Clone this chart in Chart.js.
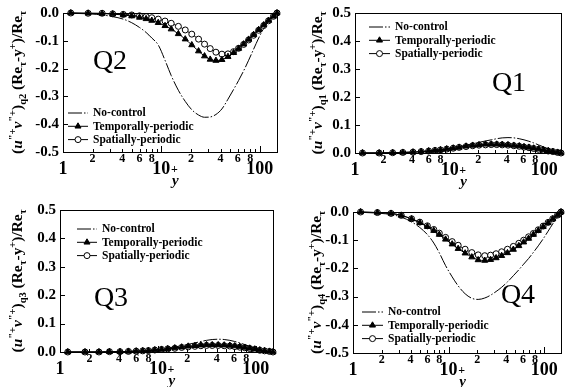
<!DOCTYPE html>
<html>
<head>
<meta charset="utf-8">
<script src="https://cdn.jsdelivr.net/npm/chart.js@4/dist/chart.umd.min.js"></script>
<style>
  html, body { margin: 0; padding: 0; background: #fff; }
  #wrap { position: relative; width: 566px; height: 387px; }
  #wrap canvas { position: absolute; }
</style>
</head>
<body>
<div id="wrap">
  <canvas id="q2" width="283" height="193" style="left:0;top:0"></canvas>
  <canvas id="q1" width="283" height="193" style="left:283px;top:0"></canvas>
  <canvas id="q3" width="283" height="194" style="left:0;top:193px"></canvas>
  <canvas id="q4" width="283" height="194" style="left:283px;top:193px"></canvas>
</div>
<script>
// wall distance y+ (marker positions)
const yPlus = [1.2, 1.8, 2.5, 3.2, 4.1, 5, 6, 7, 8, 9.3, 10.9, 12.6, 14.9, 17.5, 20.4, 23.9, 27.5, 31.4, 35.9, 41.3, 47.6, 54.3, 61, 68.7, 77.2, 86.8, 97.7, 110, 123, 138, 150];

// Q2
const q2None = [-0.001, -0.003, -0.007, -0.013, -0.022, -0.035, -0.052, -0.07, -0.09, -0.115, -0.17, -0.225, -0.278, -0.318, -0.348, -0.367, -0.375, -0.374, -0.365, -0.345, -0.31, -0.275, -0.243, -0.208, -0.17, -0.13, -0.09, -0.055, -0.028, -0.01, 0];
const q2Temporal = [0, -0.001, -0.002, -0.004, -0.007, -0.011, -0.016, -0.021, -0.027, -0.035, -0.046, -0.058, -0.075, -0.094, -0.115, -0.137, -0.155, -0.167, -0.171, -0.168, -0.157, -0.143, -0.128, -0.112, -0.095, -0.078, -0.06, -0.043, -0.027, -0.012, 0];
const q2Spatial = [0, -0.001, -0.001, -0.003, -0.005, -0.007, -0.01, -0.013, -0.017, -0.022, -0.029, -0.037, -0.048, -0.061, -0.076, -0.094, -0.112, -0.128, -0.141, -0.148, -0.147, -0.139, -0.127, -0.113, -0.097, -0.08, -0.062, -0.045, -0.028, -0.012, 0];

// Q1
const q1None = [0, 0, 0.001, 0.002, 0.003, 0.005, 0.007, 0.009, 0.012, 0.015, 0.019, 0.023, 0.028, 0.033, 0.038, 0.043, 0.047, 0.051, 0.054, 0.055, 0.054, 0.051, 0.047, 0.042, 0.036, 0.029, 0.022, 0.015, 0.009, 0.004, 0];
const q1Temporal = [0, 0, 0.001, 0.002, 0.003, 0.005, 0.007, 0.009, 0.011, 0.014, 0.017, 0.02, 0.024, 0.027, 0.029, 0.031, 0.031, 0.031, 0.03, 0.029, 0.027, 0.025, 0.022, 0.02, 0.017, 0.014, 0.011, 0.008, 0.005, 0.002, 0];
const q1Spatial = [0, 0, 0.001, 0.002, 0.003, 0.005, 0.007, 0.009, 0.011, 0.014, 0.017, 0.02, 0.023, 0.026, 0.028, 0.029, 0.03, 0.03, 0.029, 0.028, 0.026, 0.024, 0.021, 0.019, 0.016, 0.013, 0.01, 0.007, 0.005, 0.002, 0];

// Q3
const q3None = [0, 0, 0, 0.001, 0.001, 0.002, 0.003, 0.004, 0.006, 0.008, 0.011, 0.014, 0.018, 0.022, 0.027, 0.032, 0.037, 0.041, 0.044, 0.045, 0.044, 0.041, 0.037, 0.032, 0.026, 0.02, 0.014, 0.009, 0.005, 0.002, 0];
const q3Temporal = [0, 0, 0, 0.001, 0.001, 0.002, 0.003, 0.004, 0.005, 0.007, 0.009, 0.011, 0.014, 0.017, 0.02, 0.022, 0.024, 0.025, 0.025, 0.025, 0.024, 0.023, 0.021, 0.019, 0.016, 0.013, 0.01, 0.007, 0.004, 0.002, 0];
const q3Spatial = [0, 0, 0, 0.001, 0.001, 0.002, 0.003, 0.004, 0.005, 0.007, 0.009, 0.011, 0.013, 0.016, 0.018, 0.02, 0.022, 0.023, 0.023, 0.023, 0.022, 0.021, 0.019, 0.017, 0.015, 0.012, 0.009, 0.006, 0.004, 0.002, 0];

// Q4
const q4None = [-0.001, -0.004, -0.009, -0.018, -0.035, -0.055, -0.08, -0.11, -0.145, -0.19, -0.23, -0.262, -0.29, -0.306, -0.31, -0.305, -0.295, -0.282, -0.267, -0.248, -0.226, -0.205, -0.185, -0.165, -0.143, -0.12, -0.095, -0.068, -0.042, -0.018, 0];
const q4Temporal = [0, -0.002, -0.005, -0.012, -0.025, -0.038, -0.052, -0.066, -0.08, -0.097, -0.114, -0.13, -0.146, -0.16, -0.17, -0.172, -0.169, -0.163, -0.155, -0.145, -0.133, -0.12, -0.107, -0.094, -0.08, -0.066, -0.052, -0.038, -0.025, -0.011, 0];
const q4Spatial = [0, -0.002, -0.005, -0.012, -0.024, -0.036, -0.049, -0.062, -0.075, -0.09, -0.105, -0.118, -0.132, -0.144, -0.152, -0.155, -0.153, -0.148, -0.141, -0.132, -0.122, -0.111, -0.1, -0.088, -0.076, -0.063, -0.05, -0.037, -0.024, -0.011, 0];

// axis ticks
const xTicks = [1, 2, 3, 4, 5, 6, 7, 8, 9, 10, 20, 30, 40, 50, 60, 70, 80, 90, 100];
const xMajor = [1, 10, 100];
const xMinorLabelled = [2, 4, 6, 8, 20, 40, 60, 80];
const seriesNames = ['No-control', 'Temporally-periodic', 'Spatially-periodic'];

const SERIF = '"Liberation Serif", "Times New Roman", serif';

// draws a run of text pieces: n = bold, i = bold italic, sup / sub = small raised / lowered
function richText(ctx, segs, size, x, y) {
  let cx = x;
  segs.forEach(([txt, kind]) => {
    let s = size, dy = 0, style = 'bold';
    if (kind === 'i') style = 'italic bold';
    if (kind === 'sup') { s = size * 0.68; dy = -size * 0.4; }
    if (kind === 'sub') { s = size * 0.68; dy = size * 0.28; }
    ctx.font = `${style} ${s}px ${SERIF}`;
    ctx.fillText(txt, cx, y + dy);
    cx += ctx.measureText(txt).width;
  });
  return cx - x;
}

function yTitleSegs(q) {
  return [['(', 'n'], ['u', 'i'], ['"+', 'sup'], ['v', 'i'], ['"+', 'sup'], [')', 'n'], [q, 'sub'],
    [' (Re', 'n'], ['\u03c4', 'sub'], ['-y', 'n'], ['+', 'sup'], [')/Re', 'n'], ['\u03c4', 'sub']];
}

const panelDecor = {
  id: 'panelDecor',
  afterDraw(chart, args, o) {
    const { ctx, chartArea: a } = chart;
    const xs = chart.scales.x, ys = chart.scales.y;
    ctx.save();
    ctx.strokeStyle = '#000';
    ctx.lineWidth = 1;

    // inward ticks
    ctx.beginPath();
    xTicks.forEach(v => {
      const px = Math.round(xs.getPixelForValue(v)) + 0.5;
      const len = xMajor.includes(v) ? 6 : 3;
      ctx.moveTo(px, a.bottom); ctx.lineTo(px, a.bottom - len);
    });
    ys.ticks.forEach(t => {
      const py = Math.round(ys.getPixelForValue(t.value)) + 0.5;
      ctx.moveTo(a.left, py); ctx.lineTo(a.left + 5, py);
    });
    ctx.stroke();
    // frame
    ctx.strokeRect(Math.round(a.left) + 0.5, Math.round(a.top) + 0.5, Math.round(a.right - a.left), Math.round(a.bottom - a.top));

    // legend inside the plot
    const lg = o.legend;
    chart.data.datasets.forEach((ds, i) => {
      const y = lg.y + i * 13.3;
      ctx.save();
      ctx.setLineDash(ds.borderDash || []);
      ctx.beginPath(); ctx.moveTo(lg.x, y); ctx.lineTo(lg.x + lg.len, y); ctx.stroke();
      ctx.restore();
      if (ds.pointRadius > 0) {
        ctx.fillStyle = ds.pointBackgroundColor;
        Chart.helpers.drawPoint(ctx, { pointStyle: ds.pointStyle, radius: ds.pointRadius, rotation: 0, borderWidth: 1 }, lg.x + lg.len / 2, y);
      }
      ctx.fillStyle = '#000';
      ctx.font = `bold 11.5px ${SERIF}`;
      ctx.textBaseline = 'middle';
      ctx.fillText(ds.label, lg.x + lg.len + 5, y + 0.5);
    });

    // panel tag
    ctx.fillStyle = '#000';
    ctx.font = `28px ${SERIF}`;
    ctx.textAlign = 'center';
    ctx.textBaseline = 'middle';
    ctx.fillText(o.tag, o.tagX, o.tagY);

    // x title y+
    const p10 = xs.getPixelForValue(10);
    ctx.font = `italic bold 15px ${SERIF}`;
    ctx.fillText('y', p10 + 14, a.bottom + 29);
    ctx.font = `bold 12px ${SERIF}`;
    ctx.fillText('+', p10 + 13, a.bottom + 18);

    // rotated y title
    ctx.textAlign = 'left';
    ctx.textBaseline = 'alphabetic';
    ctx.translate(o.titleX, (a.top + a.bottom) / 2);
    ctx.rotate(-Math.PI / 2);
    ctx.scale(1.1, 1);
    const segs = yTitleSegs(o.q);
    ctx.globalAlpha = 0;
    const w = richText(ctx, segs, 14, 0, 0);
    ctx.globalAlpha = 1;
    richText(ctx, segs, 14, -w / 2, 5);
    ctx.restore();
  }
};

function pts(vals) {
  return yPlus.map((x, i) => ({ x: x, y: vals[i] }));
}

function makePanel(id, p) {
  return new Chart(document.getElementById(id), {
    type: 'line',
    data: {
      datasets: [
        { label: seriesNames[0], data: pts(p.none), borderColor: '#000', borderWidth: 1, borderDash: [14, 2, 1.5, 2],
          pointRadius: 0, cubicInterpolationMode: 'monotone', clip: 6 },
        { label: seriesNames[1], data: pts(p.temporal), borderColor: '#000', borderWidth: 1, pointStyle: 'triangle',
          pointRadius: 3.5, pointBackgroundColor: '#000', pointBorderColor: '#000', pointBorderWidth: 1,
          cubicInterpolationMode: 'monotone', clip: 6 },
        { label: seriesNames[2], data: pts(p.spatial), borderColor: '#000', borderWidth: 1, pointStyle: 'circle',
          pointRadius: 3, pointBackgroundColor: '#fff', pointBorderColor: '#000', pointBorderWidth: 1,
          cubicInterpolationMode: 'monotone', clip: 6 }
      ]
    },
    options: {
      responsive: false,
      animation: false,
      events: [],
      layout: { padding: { left: 0, top: p.top, right: p.right, bottom: p.bottom } },
      plugins: {
        legend: { display: false },
        tooltip: { enabled: false },
        panelDecor: { legend: p.legend, tag: p.tag, tagX: p.tagX, tagY: p.tagY, titleX: p.titleX, q: p.q }
      },
      scales: {
        x: {
          type: 'logarithmic', position: 'bottom', min: 1, max: 150,
          afterBuildTicks: s => { s.ticks = xTicks.map(v => ({ value: v })); },
          afterFit: s => { s.height = 26; },
          grid: { display: false, drawTicks: false },
          border: { display: true, color: '#000', width: 1 },
          ticks: {
            autoSkip: false, maxRotation: 0, padding: 1, color: '#000',
            // small leading digits near the axis, big decade labels one line lower
            font: c => xMajor.includes(c.tick && c.tick.value)
              ? { family: SERIF, weight: 'bold', size: 18, lineHeight: 0.6 }
              : { family: SERIF, weight: 'bold', size: 12, lineHeight: 1.0 },
            callback: v => xMajor.includes(v) ? ['', String(v)]
              : (xMinorLabelled.includes(v) ? String(v).charAt(0) : '')
          }
        },
        y: {
          type: 'linear', min: p.yMin, max: p.yMax,
          afterFit: s => { s.width = p.yWidth; },
          grid: { display: false, drawTicks: false },
          border: { display: true, color: '#000', width: 1 },
          ticks: {
            stepSize: 0.1, padding: 4, color: '#000',
            font: { family: SERIF, weight: 'bold', size: 15 },
            callback: v => v.toFixed(1)
          }
        }
      }
    },
    plugins: [panelDecor]
  });
}

makePanel('q2', {
  none: q2None, temporal: q2Temporal, spatial: q2Spatial, yMin: -0.5, yMax: 0,
  top: 11, right: 6, bottom: 15, yWidth: 63,
  legend: { x: 68, y: 113, len: 20 }, tag: 'Q2', tagX: 110, tagY: 62, titleX: 17, q: 'q2'
});
makePanel('q1', {
  none: q1None, temporal: q1Temporal, spatial: q1Spatial, yMin: 0, yMax: 0.5,
  top: 12, right: 2, bottom: 14, yWidth: 72,
  legend: { x: 86, y: 27, len: 21 }, tag: 'Q1', tagX: 226, tagY: 84, titleX: 34, q: 'q1'
});
makePanel('q3', {
  none: q3None, temporal: q3Temporal, spatial: q3Spatial, yMin: 0, yMax: 0.5,
  top: 17, right: 10, bottom: 9, yWidth: 60,
  legend: { x: 77, y: 36, len: 20 }, tag: 'Q3', tagX: 111, tagY: 106, titleX: 17, q: 'q3'
});
makePanel('q4', {
  none: q4None, temporal: q4Temporal, spatial: q4Spatial, yMin: -0.5, yMax: 0,
  top: 19, right: 2, bottom: 8, yWidth: 70,
  legend: { x: 79, y: 119, len: 21 }, tag: 'Q4', tagX: 235, tagY: 103, titleX: 33, q: 'q4'
});
</script>
</body>
</html>
